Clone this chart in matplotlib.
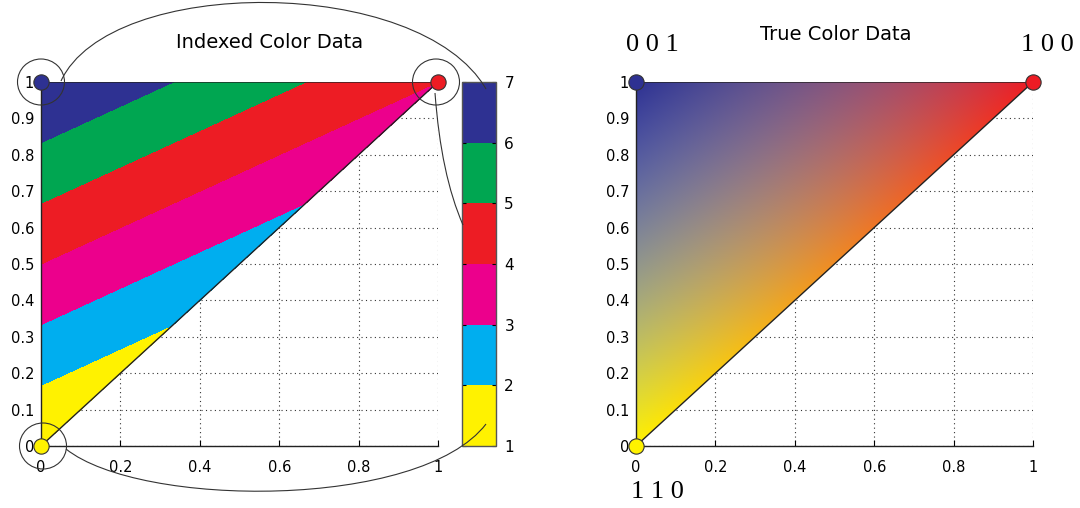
import numpy as np
import matplotlib
matplotlib.use("Agg")
import matplotlib.pyplot as plt
from matplotlib.colors import ListedColormap, BoundaryNorm, to_rgb
from matplotlib.patches import Polygon, Ellipse, PathPatch
from matplotlib.path import Path
from matplotlib.tri import Triangulation

plt.rcParams.update({
    "font.family": "sans-serif",
    "font.sans-serif": ["DejaVu Sans"],
    "font.size": 10.5,
})

# ---------------------------------------------------------------- data
VERTEX_X = [0, 0, 1]
VERTEX_Y = [0, 1, 1]
INDEX_VALUES = [1, 7, 4]                       # indexed colour data per vertex
TRUE_RGB = [(1, 1, 0), (0, 0, 1), (1, 0, 0)]   # true colour data per vertex
VERTEX_COLORS = ["#FFF200", "#2E3192", "#ED1C24"]
# colour seen half-way along each edge (yellow-blue, blue-red, yellow-red)
EDGE_PAIRS = [(0, 1), (1, 2), (0, 2)]
EDGE_MID_COLORS = ["#91968C", "#87557D", "#F08C23"]

CMAP_COLORS = ["#FFF200", "#00AEEF", "#EC008C", "#ED1C24", "#00A651", "#2E3192"]
CBAR_LEVELS = [1, 2, 3, 4, 5, 6, 7]

X_TICKS = [0, 0.2, 0.4, 0.6, 0.8, 1]
X_LABELS = ["0", "0.2", "0.4", "0.6", "0.8", "1"]
Y_TICKS = [0, 0.1, 0.2, 0.3, 0.4, 0.5, 0.6, 0.7, 0.8, 0.9, 1]
Y_LABELS = ["0", "0.1", "0.2", "0.3", "0.4", "0.5", "0.6", "0.7", "0.8", "0.9", "1"]

W, H = 1080, 508
fig = plt.figure(figsize=(W / 100, H / 100), dpi=100)


def px_box(x0, y_top, w, h):
    return [x0 / W, 1 - (y_top + h) / H, w / W, h / H]


def style_axes(ax):
    ax.set_xlim(0, 1)
    ax.set_ylim(0, 1)
    ax.set_xticks(X_TICKS)
    ax.set_xticklabels(X_LABELS)
    ax.set_yticks(Y_TICKS)
    ax.set_yticklabels(Y_LABELS)
    ax.tick_params(direction="in", length=4, width=0.8, labelsize=10.5)
    ax.tick_params(axis="x", pad=10)
    ax.tick_params(axis="y", pad=5)
    for s in ("top", "right"):
        ax.spines[s].set_visible(False)
    for s in ("left", "bottom"):
        ax.spines[s].set_linewidth(1.0)
        ax.spines[s].set_color("#222222")
    ax.grid(True, linestyle=(0, (1, 3)), color="#333333", linewidth=0.8)
    ax.set_axisbelow(True)


tri_xy = np.column_stack([VERTEX_X, VERTEX_Y])

# ---------------------------------------------------------------- indexed panel
ax1 = fig.add_axes(px_box(41, 82, 397, 364))
style_axes(ax1)
cmap = ListedColormap(CMAP_COLORS)
norm = BoundaryNorm(CBAR_LEVELS, cmap.N)
tri = Triangulation(VERTEX_X, VERTEX_Y)
ax1.tricontourf(tri, INDEX_VALUES, levels=CBAR_LEVELS, cmap=cmap, norm=norm, zorder=2)
ax1.add_patch(Polygon(tri_xy, closed=True, fill=False, edgecolor="#222222",
                      linewidth=1.0, zorder=3))
for x, y, c in zip(VERTEX_X, VERTEX_Y, VERTEX_COLORS):
    ax1.plot(x, y, "o", ms=11, mfc=c, mec="#333333", mew=0.8, clip_on=False, zorder=5)

cax = fig.add_axes(px_box(462, 82, 34, 364))
sm = plt.cm.ScalarMappable(norm=norm, cmap=cmap)
cb = fig.colorbar(sm, cax=cax, ticks=CBAR_LEVELS)
cb.outline.set_edgecolor("#555555")
cb.outline.set_linewidth(1.0)
cax.tick_params(direction="in", length=3, width=0.8, left=True, right=True,
                labelsize=11, pad=6)

# ---------------------------------------------------------------- true colour panel
ax2 = fig.add_axes(px_box(636, 82, 397, 364))
style_axes(ax2)

n = 500
gx, gy = np.meshgrid(np.linspace(0, 1, n), np.linspace(0, 1, n))
pts = np.stack([gx.ravel(), gy.ravel()], axis=1)
# barycentric weights
T = np.array([[tri_xy[0, 0] - tri_xy[2, 0], tri_xy[1, 0] - tri_xy[2, 0]],
              [tri_xy[0, 1] - tri_xy[2, 1], tri_xy[1, 1] - tri_xy[2, 1]]])
lam = np.linalg.solve(T, (pts - tri_xy[2]).T)
wts = np.vstack([lam[0], lam[1], 1 - lam[0] - lam[1]]).T
vcols = np.array([to_rgb(c) for c in VERTEX_COLORS])
rgb = wts @ vcols
for (i, j), mc in zip(EDGE_PAIRS, EDGE_MID_COLORS):
    lift = np.array(to_rgb(mc)) - (vcols[i] + vcols[j]) / 2
    rgb += 4 * np.outer(wts[:, i] * wts[:, j], lift)
rgb = np.clip(rgb, 0, 1)
alpha = (wts.min(axis=1) >= -0.01).astype(float)
img = np.concatenate([rgb, alpha[:, None]], axis=1).reshape(n, n, 4)
im = ax2.imshow(img, extent=(0, 1, 0, 1), origin="lower", interpolation="bilinear",
                aspect="auto", zorder=2)
clip = Polygon(tri_xy, closed=True, transform=ax2.transData)
im.set_clip_path(clip)
ax2.add_patch(Polygon(tri_xy, closed=True, fill=False, edgecolor="#222222",
                      linewidth=1.0, zorder=3))
for x, y, c in zip(VERTEX_X, VERTEX_Y, VERTEX_COLORS):
    ax2.plot(x, y, "o", ms=11, mfc=c, mec="#333333", mew=0.8, clip_on=False, zorder=5)

# ---------------------------------------------------------------- titles and labels
fig.text(270 / W, 1 - 42 / H, "Indexed Color Data", ha="center", va="center", fontsize=14)
fig.text(836 / W, 1 - 34 / H, "True Color Data", ha="center", va="center", fontsize=14)

rgb_labels = [" ".join(str(v) for v in c) for c in TRUE_RGB]
label_pos = [(657, 492), (652, 45), (1047, 45)]
for (lx, ly), txt in zip(label_pos, rgb_labels):
    fig.text(lx / W, 1 - ly / H, txt, ha="center", va="center", fontsize=19,
             family="Liberation Serif")

# ---------------------------------------------------------------- callout circles and links (pixel overlay)
ov = fig.add_axes([0, 0, 1, 1], facecolor="none", zorder=10)
ov.set_xlim(0, W)
ov.set_ylim(H, 0)
ov.axis("off")
for cx, cy in [(41, 82), (436, 82), (43, 446)]:
    ov.add_patch(Ellipse((cx, cy), 47, 46, fill=False, edgecolor="#333333", linewidth=0.8))

C4 = [Path.MOVETO, Path.CURVE4, Path.CURVE4, Path.CURVE4]
C3 = [Path.MOVETO, Path.CURVE3, Path.CURVE3]
links = [
    Path([(61, 81), (110, -25), (420, -25), (486, 89)], C4),
    Path([(435, 93), (441, 175), (463, 225)], C3),
    Path([(66, 449), (140, 508), (420, 510), (486, 424)], C4),
]
for p in links:
    ov.add_patch(PathPatch(p, fill=False, edgecolor="#333333", linewidth=0.8))

fig.savefig("out.png", dpi=100)
